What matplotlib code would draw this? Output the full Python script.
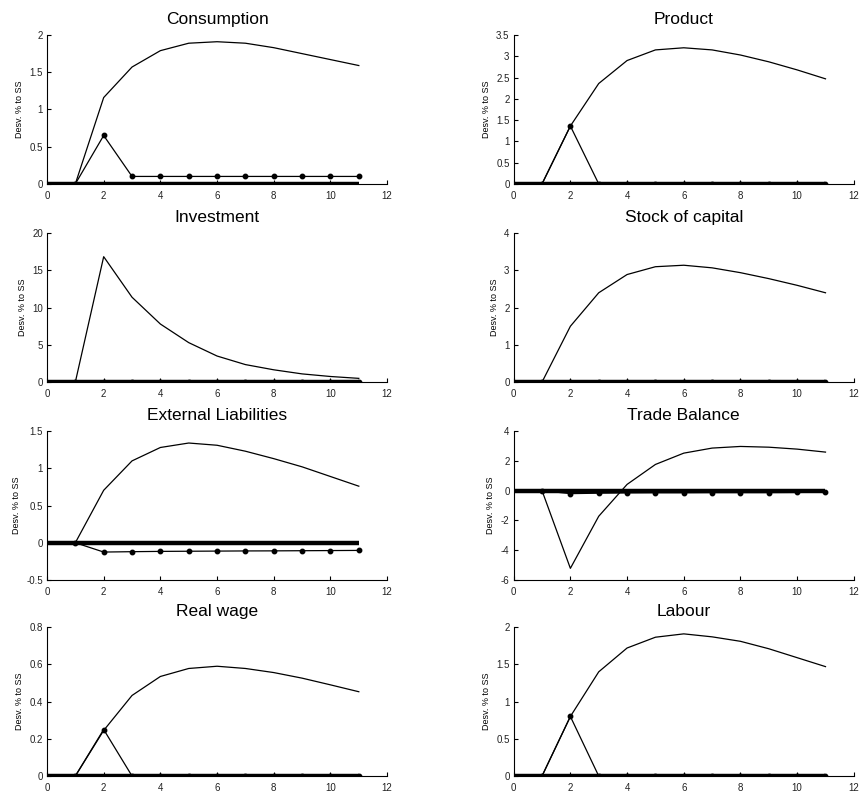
import numpy as np
import matplotlib
matplotlib.use('Agg')
import matplotlib.pyplot as plt

plt.rcParams['font.family'] = ['Liberation Sans', 'DejaVu Sans']

periodes = [1, 2, 3, 4, 5, 6, 7, 8, 9, 10, 11]
periodes_base = [0, 1, 2, 3, 4, 5, 6, 7, 8, 9, 10, 11]

# xoc persistent (línia fina)
consum_p = [0, 1.16, 1.57, 1.79, 1.89, 1.91, 1.89, 1.83, 1.75, 1.67, 1.59]
producte_p = [0, 1.36, 2.36, 2.90, 3.15, 3.20, 3.15, 3.03, 2.87, 2.68, 2.47]
inversio_p = [0, 16.85, 11.4, 7.8, 5.3, 3.5, 2.35, 1.65, 1.1, 0.75, 0.5]
capital_p = [0, 1.5, 2.4, 2.89, 3.1, 3.14, 3.07, 2.94, 2.78, 2.6, 2.4]
deute_p = [0, 0.705, 1.1, 1.28, 1.34, 1.31, 1.23, 1.13, 1.02, 0.89, 0.76]
balanca_p = [0, -5.22, -1.72, 0.42, 1.76, 2.52, 2.86, 2.97, 2.92, 2.79, 2.59]
salari_p = [0, 0.245, 0.433, 0.535, 0.578, 0.59, 0.578, 0.556, 0.526, 0.49, 0.453]
treball_p = [0, 0.80, 1.40, 1.72, 1.865, 1.91, 1.87, 1.81, 1.71, 1.59, 1.47]

# xoc temporal (línia amb punts)
consum_t = [0, 0.65, 0.1, 0.1, 0.1, 0.1, 0.1, 0.1, 0.1, 0.1, 0.1]
producte_t = [0, 1.36, 0, 0, 0, 0, 0, 0, 0, 0, 0]
inversio_t = [0, 0, 0, 0, 0, 0, 0, 0, 0, 0, 0]
capital_t = [0, 0, 0, 0, 0, 0, 0, 0, 0, 0, 0]
deute_t = [0, -0.125, -0.12, -0.116, -0.114, -0.112, -0.11, -0.109, -0.107, -0.105, -0.103]
balanca_t = [0, -0.2, -0.17, -0.15, -0.14, -0.14, -0.13, -0.13, -0.13, -0.12, -0.1]
salari_t = [0, 0.25, 0, 0, 0, 0, 0, 0, 0, 0, 0]
treball_t = [0, 0.80, 0, 0, 0, 0, 0, 0, 0, 0, 0]

# escenari base (línia gruixuda)
base = [0, 0, 0, 0, 0, 0, 0, 0, 0, 0, 0, 0]

titols = ['Consumption', 'Product', 'Investment', 'Stock of capital',
          'External Liabilities', 'Trade Balance', 'Real wage', 'Labour']
persistent = [consum_p, producte_p, inversio_p, capital_p,
              deute_p, balanca_p, salari_p, treball_p]
temporal = [consum_t, producte_t, inversio_t, capital_t,
            deute_t, balanca_t, salari_t, treball_t]
eixos_y = [np.arange(0, 2.01, 0.5), np.arange(0, 3.51, 0.5),
           np.arange(0, 20.1, 5), np.arange(0, 4.1, 1),
           np.arange(-0.5, 1.51, 0.5), np.arange(-6, 4.1, 2),
           np.arange(0, 0.81, 0.2), np.arange(0, 2.01, 0.5)]

fig = plt.figure(figsize=(8.59, 7.96), dpi=100)

files_y = [0.769, 0.520, 0.2714, 0.0251]
alt = 0.187
cols_x = [0.0547, 0.598]
ample = 0.396

for i, titol in enumerate(titols):
    fila, col = i // 2, i % 2
    ax = fig.add_axes([cols_x[col], files_y[fila], ample, alt])
    ax.plot(periodes_base, base, color='black', linewidth=3.2, solid_capstyle='butt')
    ax.plot(periodes, persistent[i], color='black', linewidth=0.9)
    ax.plot(periodes, temporal[i], color='black', linewidth=0.9,
            marker='o', markersize=3.2)
    ticks = eixos_y[i]
    ax.set_yticks(ticks)
    ax.set_yticklabels([f'{t:g}' for t in ticks])
    ax.set_ylim(ticks[0], ticks[-1])
    ax.set_xlim(0, 12)
    ax.set_xticks(range(0, 13, 2))
    ax.spines['top'].set_visible(False)
    ax.spines['right'].set_visible(False)
    ax.spines['left'].set_linewidth(0.8)
    ax.spines['bottom'].set_linewidth(0.8)
    ax.tick_params(direction='in', length=3, width=0.8, labelsize=7,
                   labelcolor='#222222')
    ax.tick_params(axis='x', pad=5)
    ax.tick_params(axis='y', pad=3)
    ax.set_title(titol, fontsize=12.5, pad=8)
    ax.set_ylabel('Desv. % to SS', fontsize=6.5, labelpad=4)

fig.savefig('out.png', dpi=100)
